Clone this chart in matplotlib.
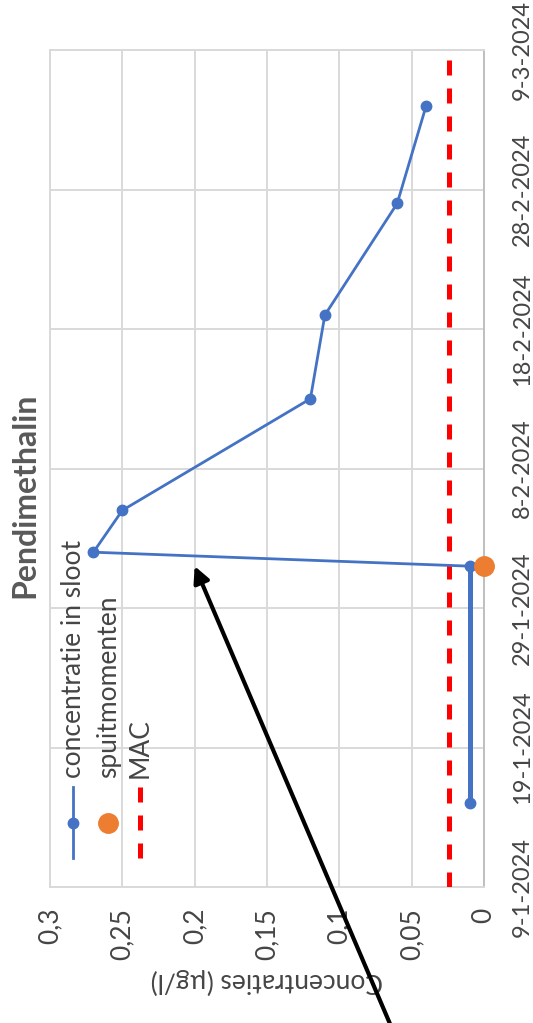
import numpy as np
import pandas as pd
import matplotlib
matplotlib.use("Agg")
import matplotlib.pyplot as plt
import matplotlib.dates as mdates

# ===== data =====
meet_dates = ["2024-01-15", "2024-02-01", "2024-02-02", "2024-02-05",
              "2024-02-13", "2024-02-19", "2024-02-27", "2024-03-05"]
conc_sloot = [0.01, 0.01, 0.27, 0.25, 0.12, 0.11, 0.06, 0.04]

spuit_dates = ["2024-02-01"]
spuit_vals = [0.0]

mac_value = 0.024

date_ticks = ["2024-01-09", "2024-01-19", "2024-01-29", "2024-02-08",
              "2024-02-18", "2024-02-28", "2024-03-09"]
date_labels = ["9-1-2024", "19-1-2024", "29-1-2024", "8-2-2024",
               "18-2-2024", "28-2-2024", "9-3-2024"]
val_ticks = [0, 0.05, 0.1, 0.15, 0.2, 0.25, 0.3]
val_labels = ["0", "0,05", "0,1", "0,15", "0,2", "0,25", "0,3"]

# ===== style =====
plt.rcParams['font.family'] = ['Lato', 'DejaVu Sans']
BLUE = '#4472C4'
ORANGE = '#ED7D31'
RED = '#FF0000'
GRID = '#D9D9D9'
TXT = '#454545'

def dn(s):
	return mdates.date2num(pd.to_datetime(s))

x_meet = [dn(d) for d in meet_dates]
x_spuit = [dn(d) for d in spuit_dates]

W, H = 533, 1023
fig = plt.figure(figsize=(W/100, H/100), dpi=100)
# chart is drawn turned a quarter turn: value axis runs right-to-left, dates bottom-to-top
ax = fig.add_axes([50/W, 1-887/H, 434/W, 837/H])

ax.set_xlim(0.3, 0)
ax.set_ylim(dn(date_ticks[0]), dn(date_ticks[-1]))

ax.set_xticks(val_ticks)
ax.set_xticklabels(val_labels, rotation=90, fontsize=19, color=TXT)
ax.set_yticks([dn(d) for d in date_ticks])
ax.set_yticklabels(date_labels, rotation=90, va='center', fontsize=17, color=TXT)
ax.yaxis.tick_right()
ax.tick_params(axis='both', length=0)
ax.tick_params(axis='x', pad=15)
ax.tick_params(axis='y', pad=20)

ax.grid(True, color=GRID, lw=1.4)
ax.set_axisbelow(True)
for s in ax.spines.values():
	s.set_color(GRID)
	s.set_linewidth(1.4)
ax.spines['right'].set_color('#BFBFBF')

ax.set_xlabel("Concentraties (µg/l)", rotation=180, fontsize=19, color=TXT, labelpad=6)

# MAC line
ax.axvline(mac_value, color=RED, lw=3.6, dashes=(3, 2.6), zorder=3)

# concentration in ditch (first stretch drawn heavier, as in the picture)
ax.plot(conc_sloot[:2], x_meet[:2], color=BLUE, lw=3.6, zorder=4, solid_capstyle='butt')
ax.plot(conc_sloot, x_meet, color=BLUE, lw=2, marker='o', ms=7.5, zorder=5)

# spray moments
ax.plot(spuit_vals, x_spuit, ls='none', marker='o', ms=14, color=ORANGE,
        clip_on=False, zorder=6)

# ===== legend, built by hand because it is turned too =====
tr = ax.transAxes
ax.plot([0.053, 0.053], [0.035, 0.119], color=BLUE, lw=2, transform=tr, clip_on=False, zorder=7)
ax.plot([0.053], [0.076], marker='o', ms=7.5, color=BLUE, transform=tr, clip_on=False, zorder=7)
ax.text(0.053, 0.130, "concentratie in sloot", rotation=90, ha='center', va='bottom',
        fontsize=19, color=TXT, transform=tr, zorder=7)
ax.plot([0.134], [0.076], marker='o', ms=14, color=ORANGE, transform=tr, clip_on=False, zorder=7)
ax.text(0.134, 0.130, "spuitmomenten", rotation=90, ha='center', va='bottom',
        fontsize=19, color=TXT, transform=tr, zorder=7)
ax.plot([0.207, 0.207], [0.035, 0.119], color=RED, lw=3.6, dashes=(3, 2.6),
        transform=tr, clip_on=False, zorder=7)
ax.text(0.207, 0.130, "MAC", rotation=90, ha='center', va='bottom',
        fontsize=19, color=TXT, transform=tr, zorder=7)

# title
fig.text(25/W, 1-495/H, "Pendimethalin", rotation=90, ha='center', va='center',
         fontsize=23, fontweight='bold', color='#595959')

# black pointer arrow from below the chart to the peak
ax.annotate("", xy=(0.2, dn("2024-02-01")), xycoords='data',
            xytext=(394/W, -0.01), textcoords='figure fraction',
            arrowprops=dict(arrowstyle='-|>', color='black', lw=3,
                            mutation_scale=24, shrinkA=0, shrinkB=0),
            annotation_clip=False, zorder=10)

plt.savefig("out.png", dpi=100)
